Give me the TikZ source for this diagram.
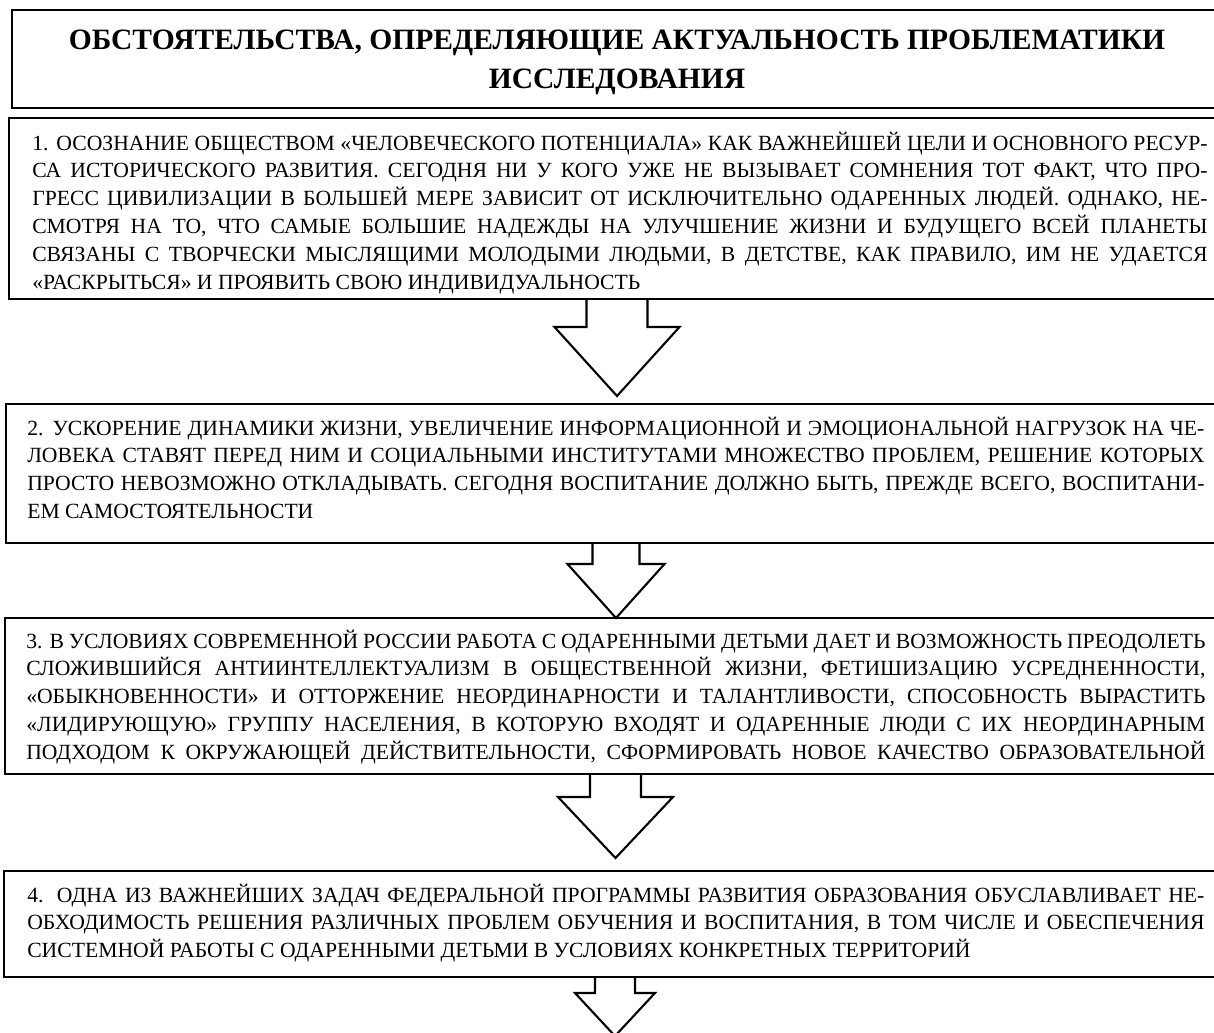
\documentclass[tikz,border=0pt]{standalone}
\usepackage{fontspec}
\setmainfont{Liberation Serif}
% one justified line of a box, and its last (ragged) line
\newcommand{\jline}[1]{\hbox to \hsize{#1}}
\newcommand{\lline}[1]{\hbox{#1}}
\tikzset{
  boxframe/.style={draw, line width=2.1pt},
  blockarrow/.style={draw, line width=1.5pt, line join=miter},
  bodytext/.style={anchor=base west, inner sep=0pt, font=\fontsize{15.4}{19.9}\selectfont},
  titletext/.style={anchor=base, inner sep=0pt, font=\fontsize{21}{27.7}\selectfont\bfseries},
}
\begin{document}
\begin{tikzpicture}[x=0.025cm, y=-0.025cm]
  \clip (0,0) rectangle (1214,1032);
  % frames, cut off at the right edge
  \draw[boxframe] (12,10) rectangle (1240,108);
  \draw[boxframe] (9,118) rectangle (1240,299);
  \draw[boxframe] (6,404) rectangle (1240,543);
  \draw[boxframe] (5,618) rectangle (1240,774);
  \draw[boxframe] (4,871) rectangle (1240,977);
  % title
  \node[titletext] (title1) at (617,49) {ОБСТОЯТЕЛЬСТВА, ОПРЕДЕЛЯЮЩИЕ АКТУАЛЬНОСТЬ ПРОБЛЕМАТИКИ};
  \node[titletext] (title2) at (617,88) {ИССЛЕДОВАНИЯ};
  % texts
  \node[bodytext] (t1) at (32,150) {\vtop{\hsize=29.375cm
    \jline{1. ОСОЗНАНИЕ ОБЩЕСТВОМ «ЧЕЛОВЕЧЕСКОГО ПОТЕНЦИАЛА» КАК ВАЖНЕЙШЕЙ ЦЕЛИ И ОСНОВНОГО РЕСУР-}
    \jline{СА ИСТОРИЧЕСКОГО РАЗВИТИЯ. СЕГОДНЯ НИ У КОГО УЖЕ НЕ ВЫЗЫВАЕТ СОМНЕНИЯ ТОТ ФАКТ, ЧТО ПРО-}
    \jline{ГРЕСС ЦИВИЛИЗАЦИИ В БОЛЬШЕЙ МЕРЕ ЗАВИСИТ ОТ ИСКЛЮЧИТЕЛЬНО ОДАРЕННЫХ ЛЮДЕЙ. ОДНАКО, НЕ-}
    \jline{СМОТРЯ НА ТО, ЧТО САМЫЕ БОЛЬШИЕ НАДЕЖДЫ НА УЛУЧШЕНИЕ ЖИЗНИ И БУДУЩЕГО ВСЕЙ ПЛАНЕТЫ}
    \jline{СВЯЗАНЫ С ТВОРЧЕСКИ МЫСЛЯЩИМИ МОЛОДЫМИ ЛЮДЬМИ, В ДЕТСТВЕ, КАК ПРАВИЛО, ИМ НЕ УДАЕТСЯ}
    \lline{«РАСКРЫТЬСЯ» И ПРОЯВИТЬ СВОЮ ИНДИВИДУАЛЬНОСТЬ}}};
  \node[bodytext] (t2) at (27,435) {\vtop{\hsize=29.425cm
    \jline{2. УСКОРЕНИЕ ДИНАМИКИ ЖИЗНИ, УВЕЛИЧЕНИЕ ИНФОРМАЦИОННОЙ И ЭМОЦИОНАЛЬНОЙ НАГРУЗОК НА ЧЕ-}
    \jline{ЛОВЕКА СТАВЯТ ПЕРЕД НИМ И СОЦИАЛЬНЫМИ ИНСТИТУТАМИ МНОЖЕСТВО ПРОБЛЕМ, РЕШЕНИЕ КОТОРЫХ}
    \jline{ПРОСТО НЕВОЗМОЖНО ОТКЛАДЫВАТЬ. СЕГОДНЯ ВОСПИТАНИЕ ДОЛЖНО БЫТЬ, ПРЕЖДЕ ВСЕГО, ВОСПИТАНИ-}
    \lline{ЕМ САМОСТОЯТЕЛЬНОСТИ}}};
  \node[bodytext] (t3) at (26,648) {\vtop{\hsize=29.475cm
    \jline{3. В УСЛОВИЯХ СОВРЕМЕННОЙ РОССИИ РАБОТА С ОДАРЕННЫМИ ДЕТЬМИ ДАЕТ И ВОЗМОЖНОСТЬ ПРЕОДОЛЕТЬ}
    \jline{СЛОЖИВШИЙСЯ АНТИИНТЕЛЛЕКТУАЛИЗМ В ОБЩЕСТВЕННОЙ ЖИЗНИ, ФЕТИШИЗАЦИЮ УСРЕДНЕННОСТИ,}
    \jline{«ОБЫКНОВЕННОСТИ» И ОТТОРЖЕНИЕ НЕОРДИНАРНОСТИ И ТАЛАНТЛИВОСТИ, СПОСОБНОСТЬ ВЫРАСТИТЬ}
    \jline{«ЛИДИРУЮЩУЮ» ГРУППУ НАСЕЛЕНИЯ, В КОТОРУЮ ВХОДЯТ И ОДАРЕННЫЕ ЛЮДИ С ИХ НЕОРДИНАРНЫМ}
    \jline{ПОДХОДОМ К ОКРУЖАЮЩЕЙ ДЕЙСТВИТЕЛЬНОСТИ, СФОРМИРОВАТЬ НОВОЕ КАЧЕСТВО ОБРАЗОВАТЕЛЬНОЙ}}};
  \node[bodytext] (t4) at (27,902) {\vtop{\hsize=29.425cm
    \jline{4. ОДНА ИЗ ВАЖНЕЙШИХ ЗАДАЧ ФЕДЕРАЛЬНОЙ ПРОГРАММЫ РАЗВИТИЯ ОБРАЗОВАНИЯ ОБУСЛАВЛИВАЕТ НЕ-}
    \jline{ОБХОДИМОСТЬ РЕШЕНИЯ РАЗЛИЧНЫХ ПРОБЛЕМ ОБУЧЕНИЯ И ВОСПИТАНИЯ, В ТОМ ЧИСЛЕ И ОБЕСПЕЧЕНИЯ}
    \lline{СИСТЕМНОЙ РАБОТЫ С ОДАРЕННЫМИ ДЕТЬМИ В УСЛОВИЯХ КОНКРЕТНЫХ ТЕРРИТОРИЙ}}};
  % block arrows: centre / top / neck / tip / shaft half / head half
  \foreach \cx/\ya/\yb/\yc/\sw/\hw in {617/299/327/396/30.5/62.5, 616/543/564/618/23.5/48.5,
      615.5/774/797/858/25.5/57.5, 615/977/993/1036/20/40}
    \draw[blockarrow] (\cx-\sw,\ya) -- (\cx-\sw,\yb) -- (\cx-\hw,\yb) -- (\cx,\yc)
      -- (\cx+\hw,\yb) -- (\cx+\sw,\yb) -- (\cx+\sw,\ya);
\end{tikzpicture}
\end{document}
